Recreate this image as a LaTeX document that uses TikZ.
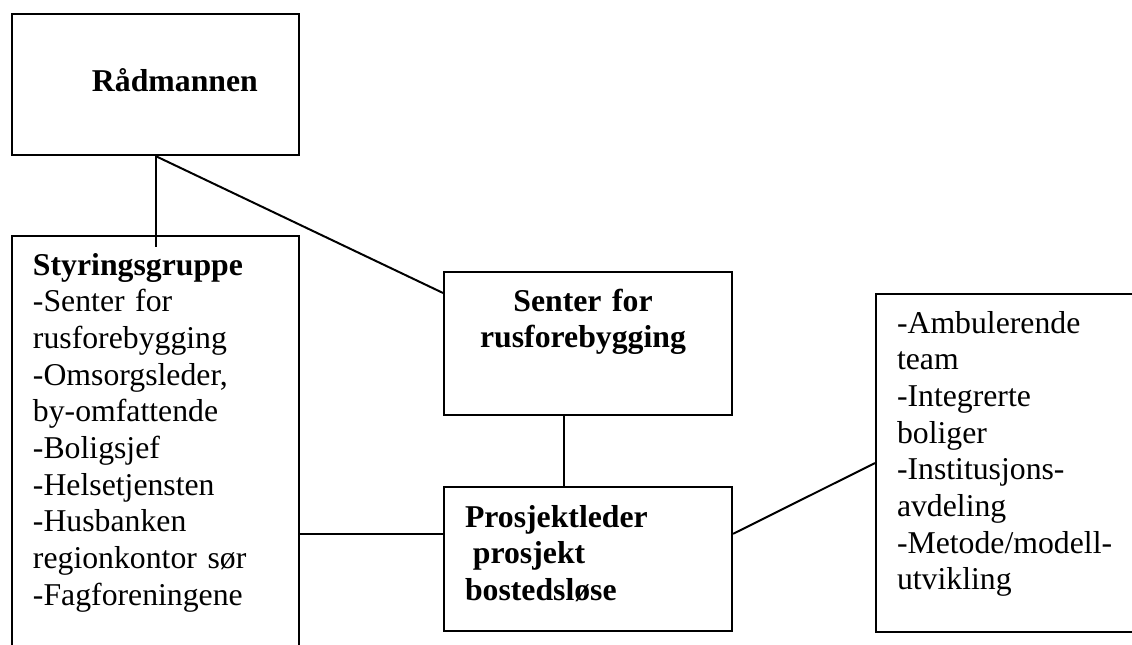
\documentclass[tikz,border=0pt]{standalone}
\usepackage{fontspec}
\setmainfont{Liberation Serif}
\usetikzlibrary{positioning}

\tikzset{
  box/.style={draw, rectangle, anchor=north west, inner sep=0pt},
  txt/.style={anchor=base west, inner sep=0pt, align=left, text width=110pt,
              font=\fontsize{12}{13.87}\selectfont},
  headtxt/.style={anchor=base, inner sep=0pt, align=center, text width=100pt,
              font=\fontsize{12}{13.87}\selectfont\bfseries}
}

\begin{document}
\begin{tikzpicture}[x=0.378pt, y=-0.378pt, line width=0.75pt]
    \useasboundingbox (0,0) rectangle (1132,644);
    % boxes
    \node[box, minimum width=108.5pt, minimum height=53.3pt] (raad)   at (11,13)   {};
    \node[box, minimum width=108.5pt, minimum height=157pt]  (styr)   at (11,235)  {};
    \node[box, minimum width=108.9pt, minimum height=54pt]   (senter) at (443,271) {};
    \node[box, minimum width=108.9pt, minimum height=54.4pt] (prosj)  at (443,486) {};
    \node[box, minimum width=100.5pt, minimum height=127.8pt] (tiltak) at (875,293) {};
    % texts
    \node[txt] (raadtxt) at (91,91) {\textbf{Rådmannen}};
    \node[txt] (styrtxt) at (32,275) {\textbf{Styringsgruppe}\\-Senter for\\rusforebygging\\
        -Omsorgsleder,\\by-omfattende\\-Boligsjef\\-Helsetjensten\\-Husbanken\\
        regionkontor sør\\-Fagforeningene};
    \node[headtxt] (sentertxt) at (583,311) {Senter for\\rusforebygging};
    \node[txt] (prosjtxt) at (464,527) {\textbf{Prosjektleder}\\\hspace*{3pt}\textbf{prosjekt}\\
        \textbf{bostedsløse}};
    \node[txt] (tiltaktxt) at (896,333) {-Ambulerende\\team\\-Integrerte\\boliger\\
        -Institusjons-\\avdeling\\-Metode/modell-\\utvikling};
    % connectors
    \coordinate (styrin) at ([yshift=-4.5pt]raad.south |- styr.north);
    \draw (raad.south) -- (styrin);
    \draw (raad.south) -- ([yshift=-8.3pt]senter.north west);
    \draw ([xshift=-9pt]senter.south) -- ([xshift=-9pt]prosj.north);
    \draw ([yshift=9.5pt]prosj.west -| styr.east) -- ([yshift=9.5pt]prosj.west);
    \draw ([yshift=9.5pt]prosj.east) -- (tiltak.west);
\end{tikzpicture}
\end{document}
